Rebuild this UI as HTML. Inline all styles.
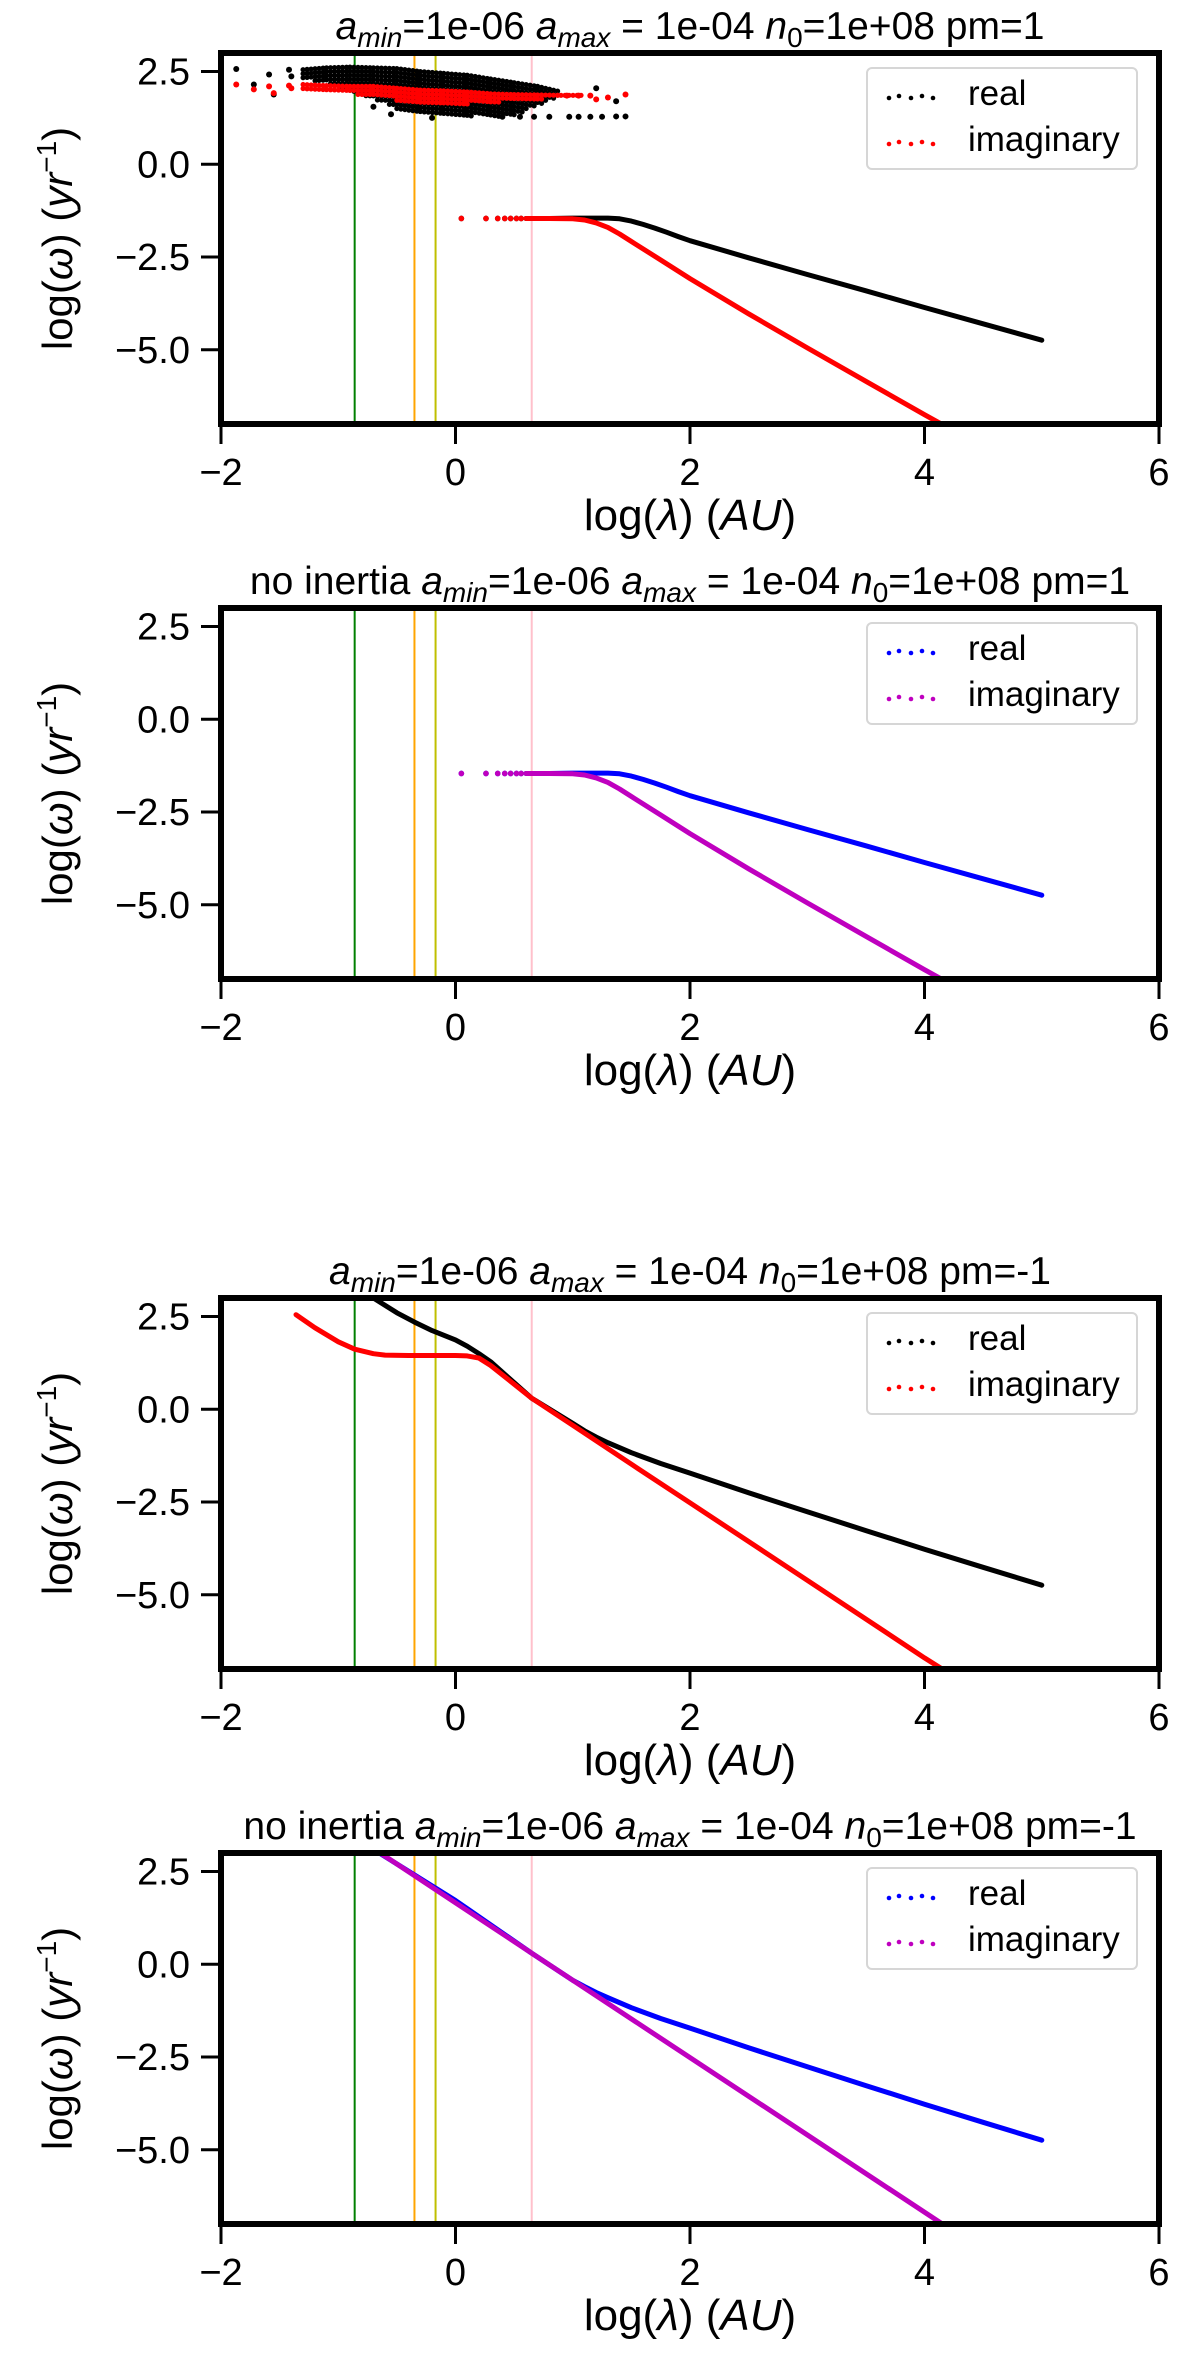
<!DOCTYPE html>
<html><head><meta charset="utf-8"><style>
body{margin:0;background:#fff}
svg{display:block;font-family:"Liberation Sans","DejaVu Sans",sans-serif}
</style></head><body>
<svg id="fig" width="1200" height="2354" viewBox="0 0 1200 2354" xmlns="http://www.w3.org/2000/svg"></svg>
<script>
// ---------- data ----------
const xTicks = [-2, 0, 2, 4, 6];
const yTicks = [2.5, 0.0, -2.5, -5.0];
const yTickLabels = ["2.5", "0.0", "\u22122.5", "\u22125.0"];
const xTickLabels = ["\u22122", "0", "2", "4", "6"];
const vlineX = [-0.86, -0.35, -0.17, 0.65];
const vlineColors = ["#008000", "#ffa500", "#bfbf00", "#ffc0cb"];

// pm=1 curves
const pmPosRealX = [0.05,0.26,0.36,0.42,0.47,0.52,0.56,0.6,0.8,1.0,1.2,1.3,1.4,1.5,1.6,1.7,1.8,1.9,2.0,2.5,3.0,3.5,4.0,4.5,5.0];
const pmPosRealY = [-1.46,-1.46,-1.46,-1.46,-1.46,-1.46,-1.46,-1.46,-1.46,-1.45,-1.45,-1.45,-1.47,-1.53,-1.62,-1.72,-1.83,-1.95,-2.06,-2.52,-2.97,-3.41,-3.86,-4.3,-4.74];
const pmPosImagX = [0.05,0.26,0.36,0.42,0.47,0.52,0.56,0.6,0.8,1.0,1.1,1.2,1.3,1.4,1.5,1.75,2.0,2.5,3.0,3.5,4.0,4.2];
const pmPosImagY = [-1.46,-1.46,-1.46,-1.46,-1.46,-1.46,-1.46,-1.46,-1.46,-1.47,-1.5,-1.58,-1.7,-1.88,-2.08,-2.58,-3.08,-4.03,-4.95,-5.85,-6.75,-7.1];

// pm=1 scatter cloud (band description) and isolated points
const cloudRealX   = [-1.3,-1.1,-0.9,-0.7,-0.5,-0.3,-0.1,0.1,0.3,0.5,0.7,0.9];
const cloudRealTop = [2.55,2.6,2.62,2.6,2.58,2.5,2.45,2.4,2.3,2.2,2.1,1.95];
const cloudRealBot = [2.3,2.2,2.0,1.75,1.5,1.4,1.35,1.3,1.28,1.3,1.6,1.8];
const cloudImagX   = [-1.3,-1.1,-0.9,-0.7,-0.5,-0.3,-0.1,0.1,0.3,0.5,0.7,0.9,1.1];
const cloudImagTop = [2.15,2.12,2.1,2.1,2.05,2.0,1.98,1.95,1.9,1.88,1.87,1.86,1.86];
const cloudImagBot = [1.95,1.95,1.9,1.82,1.72,1.66,1.62,1.62,1.65,1.7,1.75,1.78,1.8];
const ptsRealX = [-1.87,-1.72,-1.59,-1.55,-1.42,-1.40,0.4,0.55,0.67,0.8,0.97,1.05,1.15,1.25,1.37,1.45,1.37,1.2,-0.7,-0.55,-0.2];
const ptsRealY = [2.57,2.15,2.42,1.88,2.55,2.37,1.28,1.28,1.28,1.28,1.28,1.28,1.28,1.28,1.29,1.29,1.7,2.05,1.55,1.35,1.25];
const ptsImagX = [-1.87,-1.72,-1.59,-1.55,-1.42,-1.40,0.95,1.05,1.15,1.2,1.3,1.45];
const ptsImagY = [2.15,2.02,2.1,1.92,2.12,2.05,1.85,1.85,1.85,1.75,1.8,1.88];

// pm=-1 curves
const pmNegRealX = [-0.7,-0.5,-0.35,-0.2,0.0,0.1,0.2,0.3,0.65,1.0,1.1,1.2,1.3,1.5,1.75,2.0,2.5,3.0,3.5,4.0,4.5,5.0];
const pmNegRealY = [3.0,2.6,2.35,2.12,1.87,1.7,1.5,1.28,0.3,-0.38,-0.58,-0.75,-0.9,-1.17,-1.46,-1.72,-2.25,-2.76,-3.27,-3.77,-4.26,-4.74];
const pmNegImagX = [-1.36,-1.2,-1.0,-0.86,-0.7,-0.6,-0.4,-0.2,0.0,0.1,0.2,0.3,0.65,1.0,1.5,2.0,3.0,4.0,4.2];
const pmNegImagY = [2.55,2.2,1.82,1.62,1.5,1.46,1.45,1.45,1.45,1.44,1.38,1.18,0.3,-0.43,-1.48,-2.52,-4.61,-6.7,-7.1];
const niNegRealX = [-0.7,0.0,0.65,1.0,1.1,1.2,1.3,1.5,1.75,2.0,2.5,3.0,3.5,4.0,4.5,5.0];
const niNegRealY = [3.1,1.72,0.3,-0.43,-0.6,-0.76,-0.9,-1.17,-1.46,-1.72,-2.25,-2.76,-3.27,-3.77,-4.26,-4.74];
const niNegImagX = [-0.7,0.65,4.2];
const niNegImagY = [3.12,0.3,-7.1];

// ---------- drawing ----------
const NS = "http://www.w3.org/2000/svg";
const svg = document.getElementById("fig");
const AX_L = 221, AX_R = 1159, AX_H = 371;
const XMIN = -2, XMAX = 6, YMIN = -7, YMAX = 3;
function mk(tag, attrs, parent){
  const e = document.createElementNS(NS, tag);
  for (const k in attrs) e.setAttribute(k, attrs[k]);
  (parent || svg).appendChild(e);
  return e;
}
function xs(v){ return AX_L + (v - XMIN) / (XMAX - XMIN) * (AX_R - AX_L); }
function ysFor(T){ return v => T + (YMAX - v) / (YMAX - YMIN) * AX_H; }

function drawPanel(T, key, titleParts, c1, c2, series, cloud){
  const ys = ysFor(T);
  const g = mk("g", {});
  
  
  const clipId = "clip-" + key;
  const cp = mk("clipPath", {id: clipId}, g);
  mk("rect", {x: AX_L, y: T, width: AX_R - AX_L, height: AX_H}, cp);
  const plot = mk("g", {"clip-path": "url(#" + clipId + ")"}, g);
  
  

  vlineX.forEach((v, i) => {
    const l = mk("line", {x1: xs(v), x2: xs(v), y1: T, y2: T + AX_H, stroke: vlineColors[i], "stroke-width": 2}, plot);
    
    
  });

  if (cloud){
    const bands = [[cloudRealX, cloudRealTop, cloudRealBot, c1], [cloudImagX, cloudImagTop, cloudImagBot, c2]];
    bands.forEach(([bx, bt, bb, col], bi) => {
      const cg = mk("g", {fill: col}, plot);
      
      
      for (let i = 0; i < bx.length - 1; i++){
        const px0 = xs(bx[i]), px1 = xs(bx[i+1]);
        for (let px = px0; px < px1; px += 4){
          const f = (px - px0) / (px1 - px0);
          const top = ys(bt[i] + f * (bt[i+1] - bt[i]));
          const bot = ys(bb[i] + f * (bb[i+1] - bb[i]));
          for (let py = top; py <= bot; py += 4){
            mk("circle", {cx: px, cy: py, r: 2.6}, cg);
          }
        }
      }
    });
    [[ptsRealX, ptsRealY, c1, 'real-scatter-point'], [ptsImagX, ptsImagY, c2, 'imaginary-scatter-point']].forEach(([px, py, col, nm]) => {
      px.forEach((v, i) => {
        const c = mk("circle", {cx: xs(v), cy: ys(py[i]), r: 3, fill: col}, plot);
        
        
      });
    });
  }

  series.forEach(([sx, sy, col, nm, sparse]) => {
    let d = "";
    sx.forEach((v, i) => {
      if (sparse && v < 0.6){
        const c = mk("circle", {cx: xs(v), cy: ys(sy[i]), r: 2.8, fill: col}, plot);
        
        
      } else {
        d += (d ? "L" : "M") + xs(v).toFixed(1) + "," + ys(sy[i]).toFixed(1);
      }
    });
    const p = mk("path", {d: d, fill: "none", stroke: col, "stroke-width": 5, "stroke-linejoin": "round", "stroke-linecap": "round"}, plot);
    
    
  });

  const fr = mk("rect", {x: AX_L, y: T, width: AX_R - AX_L, height: AX_H, fill: "none", stroke: "#000", "stroke-width": 6}, g);
  
  

  xTicks.forEach((v, i) => {
    mk("line", {x1: xs(v), x2: xs(v), y1: T + AX_H, y2: T + AX_H + 20, stroke: "#000", "stroke-width": 3}, g);
    const t = mk("text", {x: xs(v), y: T + AX_H + 61, "font-size": 38, "text-anchor": "middle"}, g);
    t.textContent = xTickLabels[i];
    
    
  });
  yTicks.forEach((v, i) => {
    mk("line", {x1: AX_L - 20, x2: AX_L, y1: ys(v), y2: ys(v), stroke: "#000", "stroke-width": 3}, g);
    const t = mk("text", {x: 190, y: ys(v) + 13, "font-size": 38, "text-anchor": "end"}, g);
    t.textContent = yTickLabels[i];
    
    
  });

  const xl = mk("text", {x: 690, y: T + AX_H + 106, "font-size": 44, "text-anchor": "middle"}, g);
  xl.innerHTML = 'log(<tspan font-style="italic">λ</tspan>) (<tspan font-style="italic">AU</tspan>)';
  
  
  const yl = mk("text", {x: 0, y: 0, "font-size": 42, "text-anchor": "middle", transform: "translate(72," + (T + AX_H / 2) + ") rotate(-90)"}, g);
  yl.innerHTML = 'log(<tspan font-style="italic">ω</tspan>) (<tspan font-style="italic">yr</tspan><tspan dy="-16" font-size="28">−1</tspan><tspan dy="16">)</tspan>';
  
  

  const tt = mk("text", {x: 690, y: T - 14, "font-size": 39, "text-anchor": "middle"}, g);
  tt.innerHTML = titleParts;
  
  

  const lg = mk("g", {}, g);
  
  
  mk("rect", {x: 867, y: T + 15, width: 270, height: 101, rx: 5, fill: "#fff", stroke: "#d6d6d6", "stroke-width": 2}, lg);
  [["real", c1, 52], ["imaginary", c2, 98]].forEach(([lab, col, dy]) => {
    const e = mk("g", {}, lg);
    
    
    [889, 899, 911, 922, 933].forEach((dx, k) => {
      mk("circle", {cx: dx, cy: T + dy - 8 + (k % 2 ? -1 : 1), r: 2.3, fill: col}, e);
    });
    const t = mk("text", {x: 968, y: T + dy, "font-size": 35}, e);
    t.textContent = lab;
  });
}

const base = '<tspan font-style="italic">a</tspan><tspan font-style="italic" font-size="28" dy="8">min</tspan><tspan dy="-8">=1e-06 </tspan><tspan font-style="italic">a</tspan><tspan font-style="italic" font-size="28" dy="8">max</tspan><tspan dy="-8"> = 1e-04 </tspan><tspan font-style="italic">n</tspan><tspan font-size="28" dy="8">0</tspan><tspan dy="-8">=1e+08 pm=';

drawPanel(53, "p1", base + '1</tspan>', "#000000", "#ff0000",
  [[pmPosRealX, pmPosRealY, "#000000", "real", true], [pmPosImagX, pmPosImagY, "#ff0000", "imaginary", true]], true);
drawPanel(608, "p2", 'no inertia ' + base + '1</tspan>', "#0000ff", "#bf00bf",
  [[pmPosRealX, pmPosRealY, "#0000ff", "real", true], [pmPosImagX, pmPosImagY, "#bf00bf", "imaginary", true]], false);
drawPanel(1298, "p3", base + '-1</tspan>', "#000000", "#ff0000",
  [[pmNegRealX, pmNegRealY, "#000000", "real", false], [pmNegImagX, pmNegImagY, "#ff0000", "imaginary", false]], false);
drawPanel(1853, "p4", 'no inertia ' + base + '-1</tspan>', "#0000ff", "#bf00bf",
  [[niNegRealX, niNegRealY, "#0000ff", "real", false], [niNegImagX, niNegImagY, "#bf00bf", "imaginary", false]], false);
</script>
</body></html>
